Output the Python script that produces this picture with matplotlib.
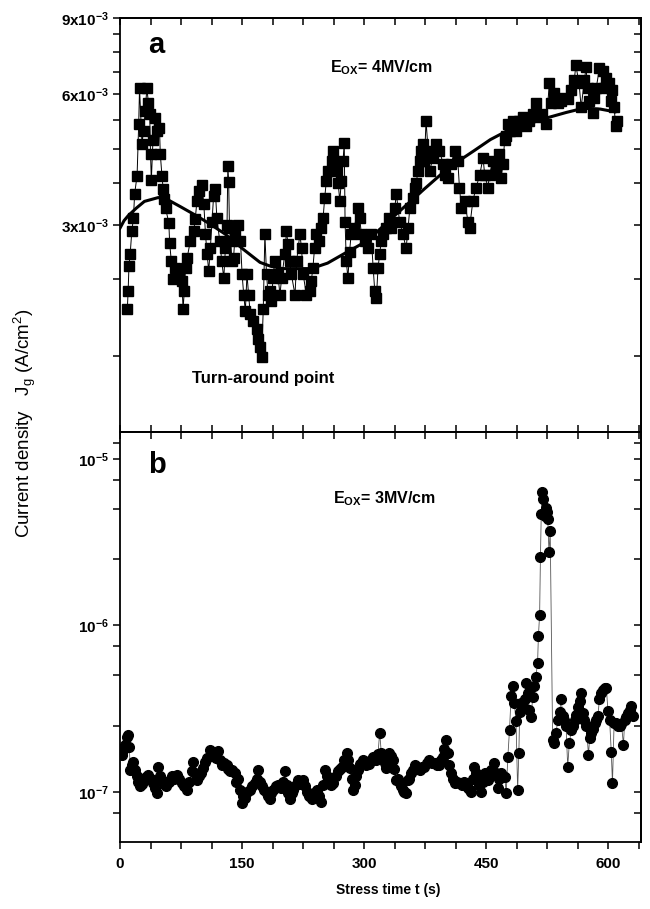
"""
Jg(t) sub tensiune constanta - doua panouri (a, b)
"""

import numpy as np
import matplotlib
matplotlib.use('Agg')
import matplotlib.pyplot as plt
from matplotlib.ticker import NullFormatter

plt.rcParams['font.family'] = ['Liberation Sans', 'DejaVu Sans']
plt.rcParams['mathtext.default'] = 'regular'

# --- panoul a: Eox = 4 MV/cm (J in 1e-3 A/cm2) ---
t_a = [9, 10, 11, 12.5, 14.5, 16.5, 18, 21, 23, 24, 27, 29, 31, 33, 35, 36.5, 37.5, 38.5,
       40.5, 43, 45.5, 48.5, 49.5, 51.5, 53, 54.5, 56, 60, 61, 63, 65, 68, 72, 76, 77.5,
       79, 80.5, 82.5, 86.5, 90.5, 92.5, 94.5, 96.5, 100.5, 103, 105, 107, 109, 111, 113,
       115, 117, 119, 122.5, 125, 127.5, 129.5, 131.5, 132.5, 133.5, 134.5, 136, 137.5,
       139.5, 141.5, 145.5, 148, 150, 152, 154, 156, 158, 160, 164, 168, 170, 172, 174,
       176, 178, 180, 182, 184, 186, 188, 190, 194, 196.5, 198.5, 202.5, 204.5, 206.5,
       208.5, 210.5, 215, 217, 221, 223, 225, 229, 233, 235, 237, 239, 241, 245, 247.5,
       249.5, 251.5, 253.5, 255.5, 260, 262, 266, 268, 270, 272, 274, 275.5, 276.5, 278,
       280, 282, 284, 288, 292, 294.5, 296.5, 300.5, 304.5, 308.5, 311, 313, 315, 317,
       319, 321, 323, 327, 331, 333.5, 337.5, 339.5, 343.5, 347.5, 351.5, 354, 356, 360,
       362, 364, 366, 368, 370, 372, 374, 376, 378.5, 380.5, 384.5, 388.5, 392.5, 397,
       399, 403, 407, 411, 415, 417, 419.5, 423.5, 427.5, 429.5, 433.5, 437.5, 442, 446,
       448, 452, 454, 458, 462, 466, 468, 470.5, 472.5, 474.5, 476.5, 478.5, 482.5, 486.5,
       490.5, 494.5, 499, 503, 507, 511, 515, 519, 523.5, 527.5, 529.5, 533.5, 537.5, 542,
       546, 550, 554, 558, 560, 564, 566.5, 570.5, 572.5, 574.5, 576.5, 580.5, 582.5, 585,
       589, 593, 595, 597, 601, 603, 605, 607, 609, 610]
j_a = [1.92, 2.11, 2.41, 2.57, 2.9, 3.11, 3.54, 3.9, 5.14, 6.2, 4.62, 4.95, 5.5, 6.2, 5.72,
       5.4, 4.38, 3.8, 4.7, 5.28, 4.95, 5.03, 4.38, 3.9, 3.64, 3.45, 3.28, 3.03, 2.73, 2.48,
       2.25, 2.39, 2.35, 2.23, 1.92, 2.11, 2.39, 2.52, 2.76, 2.9, 3.1, 3.41, 3.6, 3.7, 3.35,
       2.86, 2.57, 2.35, 2.65, 3.05, 3.5, 3.64, 3.11, 2.76, 2.48, 2.26, 2.65, 3.0, 4.11,
       3.77, 2.96, 2.76, 2.48, 2.52, 2.86, 3.0, 2.76, 2.31, 2.07, 1.9, 2.31, 2.07, 1.87,
       1.8, 1.73, 1.64, 1.57, 1.49, 1.92, 2.86, 2.31, 2.07, 2.11, 2.0, 2.26, 2.48, 2.31,
       2.07, 2.26, 2.57, 2.9, 2.71, 2.48, 2.31, 2.07, 2.48, 2.86, 2.65, 2.31, 2.07, 2.11,
       2.23, 2.39, 2.65, 2.86, 2.76, 2.96, 3.11, 3.47, 3.79, 4.0, 4.22, 4.45, 4.0, 3.75,
       3.41, 3.79, 4.22, 4.64, 3.05, 2.48, 2.26, 2.6, 2.86, 2.96, 3.28, 3.11, 2.86, 2.76,
       2.65, 2.86, 2.39, 2.11, 2.04, 2.39, 2.57, 2.76, 2.86, 2.96, 3.11, 2.96, 3.28, 3.54,
       3.05, 2.86, 2.65, 2.96, 3.28, 3.47, 3.66, 3.75, 4.0, 4.22, 4.45, 4.62, 4.22, 5.22,
       4.45, 4.0, 4.29, 4.62, 4.45, 4.15, 3.92, 3.84, 4.15, 4.45, 4.22, 3.66, 3.28, 3.41,
       3.05, 2.96, 3.41, 3.66, 3.92, 4.29, 3.92, 3.66, 3.92, 4.22, 4.07, 4.38, 3.84, 4.15,
       4.7, 4.8, 5.14, 4.95, 5.22, 4.95, 5.22, 5.32, 5.06, 5.22, 5.4, 5.72, 5.32, 5.4,
       5.14, 6.36, 5.72, 6.03, 5.72, 5.8, 5.9, 5.87, 6.13, 6.46, 7.0, 6.36, 5.6, 6.46,
       6.93, 6.2, 5.8, 5.45, 5.9, 6.2, 6.9, 6.8, 6.2, 6.56, 6.36, 5.8, 6.13, 5.6, 5.06,
       5.22]

# curba de fit (panoul a)
t_fit = [0, 5, 10, 20, 30, 47, 60, 75, 94, 110, 129, 150, 172, 185, 200, 235, 255, 276,
         295, 313, 333, 353, 373, 394, 415, 435, 455, 476, 492, 507, 525, 548, 560, 575,
         590, 608]
j_fit = [2.95, 3.07, 3.15, 3.28, 3.4, 3.47, 3.42, 3.3, 3.15, 3.02, 2.86, 2.65, 2.46,
         2.41, 2.38, 2.38, 2.45, 2.58, 2.7, 2.86, 3.1, 3.35, 3.62, 3.92, 4.2, 4.45, 4.72,
         4.95, 5.07, 5.17, 5.3, 5.45, 5.52, 5.57, 5.55, 5.47]

# --- panoul b: Eox = 3 MV/cm (J in 1e-7 A/cm2) ---
t_b = [2, 4, 6, 8, 10, 11.5, 12.5, 14.5, 16.5, 18.5, 20.5, 22.5, 24.5, 26.5, 29, 32, 35,
       38, 41, 43, 45, 47, 49, 51, 54, 57, 60, 63.5, 66.5, 69.5, 72.5, 76, 79, 82, 85, 88,
       90, 92, 94, 97, 100, 102, 104.5, 107, 110.5, 113.5, 116.5, 118.5, 120.5, 123, 125,
       128, 131, 133, 135, 138, 141, 143, 145, 147, 149.5, 151.5, 153.5, 156.5, 159.5,
       162.5, 166, 168, 170, 172, 174, 177, 180, 182, 184, 186, 188.5, 191.5, 194.5, 197.5,
       200.5, 202.5, 205, 207, 209, 211, 213, 216, 219, 222, 225, 227, 229.5, 232, 235.5,
       238.5, 241.5, 244.5, 247.5, 250, 252, 254, 256, 259, 262, 265, 268, 270, 272.5,
       275.5, 278.5, 280.5, 282.5, 284.5, 286.5, 288.5, 290.5, 292.5, 295, 297, 299, 302,
       304, 306.5, 308.5, 310.5, 313, 315, 317, 319, 321, 323, 325, 327, 329, 331, 333,
       335, 337, 339, 341, 343.5, 345.5, 347.5, 349.5, 351.5, 353.5, 355.5, 357.5, 360,
       362, 365, 368, 371, 374, 377, 380, 383, 386.5, 389.5, 392.5, 394.5, 396.5, 398.5,
       400.5, 402.5, 404.5, 407, 409, 411, 414, 417, 420, 423, 425.5, 427.5, 429.5, 431.5,
       433.5, 435.5, 437.5, 439.5, 441.5, 443.5, 446, 448, 450, 452, 454, 456, 458, 460,
       462, 464, 466, 468, 470, 472.5, 474.5, 476.5, 478.5, 480.5, 482.5, 484.5, 486.5,
       488.5, 490, 491, 493, 495, 497, 499, 501, 503, 505, 507, 509, 511, 513, 514, 515.5,
       516.5, 517.5, 518.5, 520, 521.5, 523, 524.5, 525.5, 527, 528.5, 531.5, 533.5, 535.5,
       538, 540, 542, 544, 546, 548, 550, 552, 554.5, 556.5, 558.5, 560.5, 562.5, 564.5,
       566.5, 568.5, 570.5, 573, 575.5, 577, 579, 581, 583, 585, 587, 589, 591, 593.5,
       595.5, 597.5, 599.5, 601.5, 603.5, 605, 607, 609.5, 611.5, 614, 616, 618.5, 620,
       622, 624, 626, 628, 630]
j_b = [1.67, 1.79, 1.9, 2.15, 2.2, 1.87, 1.36, 1.45, 1.52, 1.35, 1.24, 1.15, 1.08, 1.12,
       1.18, 1.22, 1.27, 1.2, 1.13, 1.05, 0.99, 1.42, 1.25, 1.18, 1.12, 1.08, 1.15, 1.24,
       1.2, 1.27, 1.2, 1.13, 1.08, 1.03, 1.15, 1.33, 1.52, 1.3, 1.18, 1.25, 1.3, 1.4, 1.52,
       1.6, 1.79, 1.65, 1.72, 1.6, 1.75, 1.55, 1.45, 1.5, 1.45, 1.38, 1.33, 1.35, 1.3, 1.15,
       1.2, 1.03, 0.86, 0.95, 0.92, 1.0, 1.03, 1.08, 1.13, 1.2, 1.36, 1.15, 1.08, 1.03,
       0.99, 0.95, 0.9, 0.98, 1.03, 1.08, 1.1, 1.05, 1.15, 1.33, 1.1, 0.98, 0.9, 0.98,
       1.03, 1.1, 1.18, 1.12, 1.18, 1.08, 1.0, 0.95, 0.9, 0.98, 1.03, 0.95, 0.87, 1.1,
       1.36, 1.25, 1.18, 1.1, 1.13, 1.25, 1.33, 1.38, 1.42, 1.55, 1.72, 1.55, 1.39, 1.2,
       1.03, 1.1, 1.24, 1.35, 1.48, 1.5, 1.56, 1.45, 1.52, 1.48, 1.55, 1.63, 1.58, 1.56,
       1.7, 2.27, 1.72, 1.62, 1.5, 1.39, 1.55, 1.72, 1.65, 1.56, 1.38, 1.18, 1.2, 1.13,
       1.08, 1.03, 1.0, 0.99, 1.18, 1.2, 1.3, 1.35, 1.45, 1.38, 1.36, 1.42, 1.41, 1.5,
       1.56, 1.5, 1.5, 1.45, 1.45, 1.55, 1.63, 1.8, 2.05, 1.72, 1.45, 1.3, 1.2, 1.13, 1.15,
       1.13, 1.1, 1.15, 1.1, 1.06, 1.03, 1.0, 1.2, 1.41, 1.3, 1.23, 1.1, 1.0, 1.15, 1.3,
       1.25, 1.18, 1.25, 1.36, 1.3, 1.5, 1.3, 1.06, 1.2, 1.3, 1.25, 1.23, 0.99, 1.63, 2.36,
       3.75, 4.3, 3.4, 2.65, 1.03, 1.72, 3.0, 3.4, 3.3, 3.6, 4.5, 3.95, 3.1, 2.8, 3.7, 4.3,
       4.93, 5.98, 8.6, 11.6, 25.6, 46.7, 63.0, 57.5, 45.5, 51.0, 48.0, 43.6, 27.4, 37.0,
       2.05, 1.96, 2.25, 2.7, 3.0, 3.6, 2.84, 2.7, 2.47, 1.42, 1.96, 2.36, 2.5, 2.7, 2.9,
       3.25, 3.5, 3.92, 2.97, 2.7, 2.47, 1.67, 2.1, 2.25, 2.4, 2.58, 2.7, 2.84, 3.6, 3.9,
       4.1, 4.2, 4.2, 3.04, 2.7, 1.74, 1.13, 2.6, 2.58, 2.5, 2.47, 2.55, 1.92, 2.7, 2.8,
       2.97, 3.1, 3.3, 2.84]

yticks_a = [3e-3, 6e-3, 9e-3]
yticklabels_a = ['3x10$^{-3}$', '6x10$^{-3}$', '9x10$^{-3}$']
yminor_a = [1.5e-3, 2.25e-3, 3.75e-3, 4.5e-3, 5.25e-3, 6.75e-3, 7.5e-3, 8.25e-3]
yticks_b = [1e-7, 1e-6, 1e-5]
yticklabels_b = ['10$^{-7}$', '10$^{-6}$', '10$^{-5}$']
yminor_b = [7.5e-8, 2.5e-7, 5e-7, 7.5e-7, 2.5e-6, 5e-6, 7.5e-6, 1.25e-5]
xticks = [0, 150, 300, 450, 600]
xminor = [37.5, 75, 112.5, 187.5, 225, 262.5, 337.5, 375, 412.5, 487.5, 525, 562.5, 637.5]


def stil_axe(ax, yticks, ylabels, yminor, arata_x):
    ax.set_xlim(0, 640)
    ax.set_xticks(xticks)
    ax.set_xticks(xminor, minor=True)
    ax.set_yticks(yticks, labels=ylabels, fontsize=11, fontweight='bold')
    ax.set_yticks(yminor, minor=True)
    ax.yaxis.set_minor_formatter(NullFormatter())
    ax.tick_params(axis='y', which='both', direction='out', length=5, width=1.1, pad=3)
    if arata_x:
        ax.set_xticks(xticks, labels=[str(v) for v in xticks], fontsize=11, fontweight='bold')
        ax.tick_params(axis='x', which='both', direction='out', length=5, width=1.1, pad=6)
    else:
        ax.tick_params(axis='x', which='both', direction='in', length=5, width=1.1,
                       labelbottom=False)
    for s in ax.spines.values():
        s.set_linewidth(1.3)

    # ticks spre interior pe dreapta si sus
    dr = ax.secondary_yaxis('right')
    dr.set_yticks(yticks)
    dr.set_yticks(yminor, minor=True)
    dr.yaxis.set_major_formatter(NullFormatter())
    dr.yaxis.set_minor_formatter(NullFormatter())
    dr.tick_params(which='both', direction='in', length=5, width=1.1)
    dr.spines['right'].set_linewidth(1.3)
    sus = ax.secondary_xaxis('top')
    sus.set_xticks(xticks)
    sus.set_xticks(xminor, minor=True)
    sus.xaxis.set_major_formatter(NullFormatter())
    sus.tick_params(which='both', direction='in', length=5, width=1.1)
    sus.spines['top'].set_linewidth(1.3)


fig = plt.figure(figsize=(6.5, 9.09), dpi=100)
ax1 = fig.add_axes([0.1846, 0.5248, 0.8015, 0.4554])
ax2 = fig.add_axes([0.1846, 0.0737, 0.8015, 0.4511])

# panoul a
ax1.plot(t_a, np.array(j_a) * 1e-3, '-', color='black', lw=0.7,
         marker='s', ms=7, mfc='black', mec='black')
ax1.plot(t_fit, np.array(j_fit) * 1e-3, '-', color='black', lw=2.2)
ax1.set_yscale('log')
ax1.set_ylim(1.0e-3, 9e-3)
stil_axe(ax1, yticks_a, yticklabels_a, yminor_a, False)
ax1.text(0.054, 0.915, 'a', transform=ax1.transAxes, fontsize=21, fontweight='bold')
ax1.text(0.403, 0.870, 'E$_{OX}$= 4MV/cm', transform=ax1.transAxes,
         fontsize=11.5, fontweight='bold')
ax1.text(0.138, 0.118, 'Turn-around point', transform=ax1.transAxes,
         fontsize=12, fontweight='bold')

# panoul b
ax2.plot(t_b, np.array(j_b) * 1e-7, '-', color='#555555', lw=0.6,
         marker='o', ms=7, mfc='black', mec='black')
ax2.set_yscale('log')
ax2.set_ylim(5.0e-8, 1.45e-5)
stil_axe(ax2, yticks_b, yticklabels_b, yminor_b, True)
ax2.text(0.054, 0.90, 'b', transform=ax2.transAxes, fontsize=21, fontweight='bold')
ax2.text(0.409, 0.827, 'E$_{OX}$= 3MV/cm', transform=ax2.transAxes,
         fontsize=11.5, fontweight='bold')

fig.text(0.598, 0.021, 'Stress time t (s)', ha='center', va='center',
         fontsize=10, fontweight='bold')
fig.text(0.038, 0.5347, 'Current density   J$_g$ (A/cm$^2$)', ha='center', va='center',
         rotation=90, fontsize=13.5)

fig.savefig('out.png', dpi=100)
